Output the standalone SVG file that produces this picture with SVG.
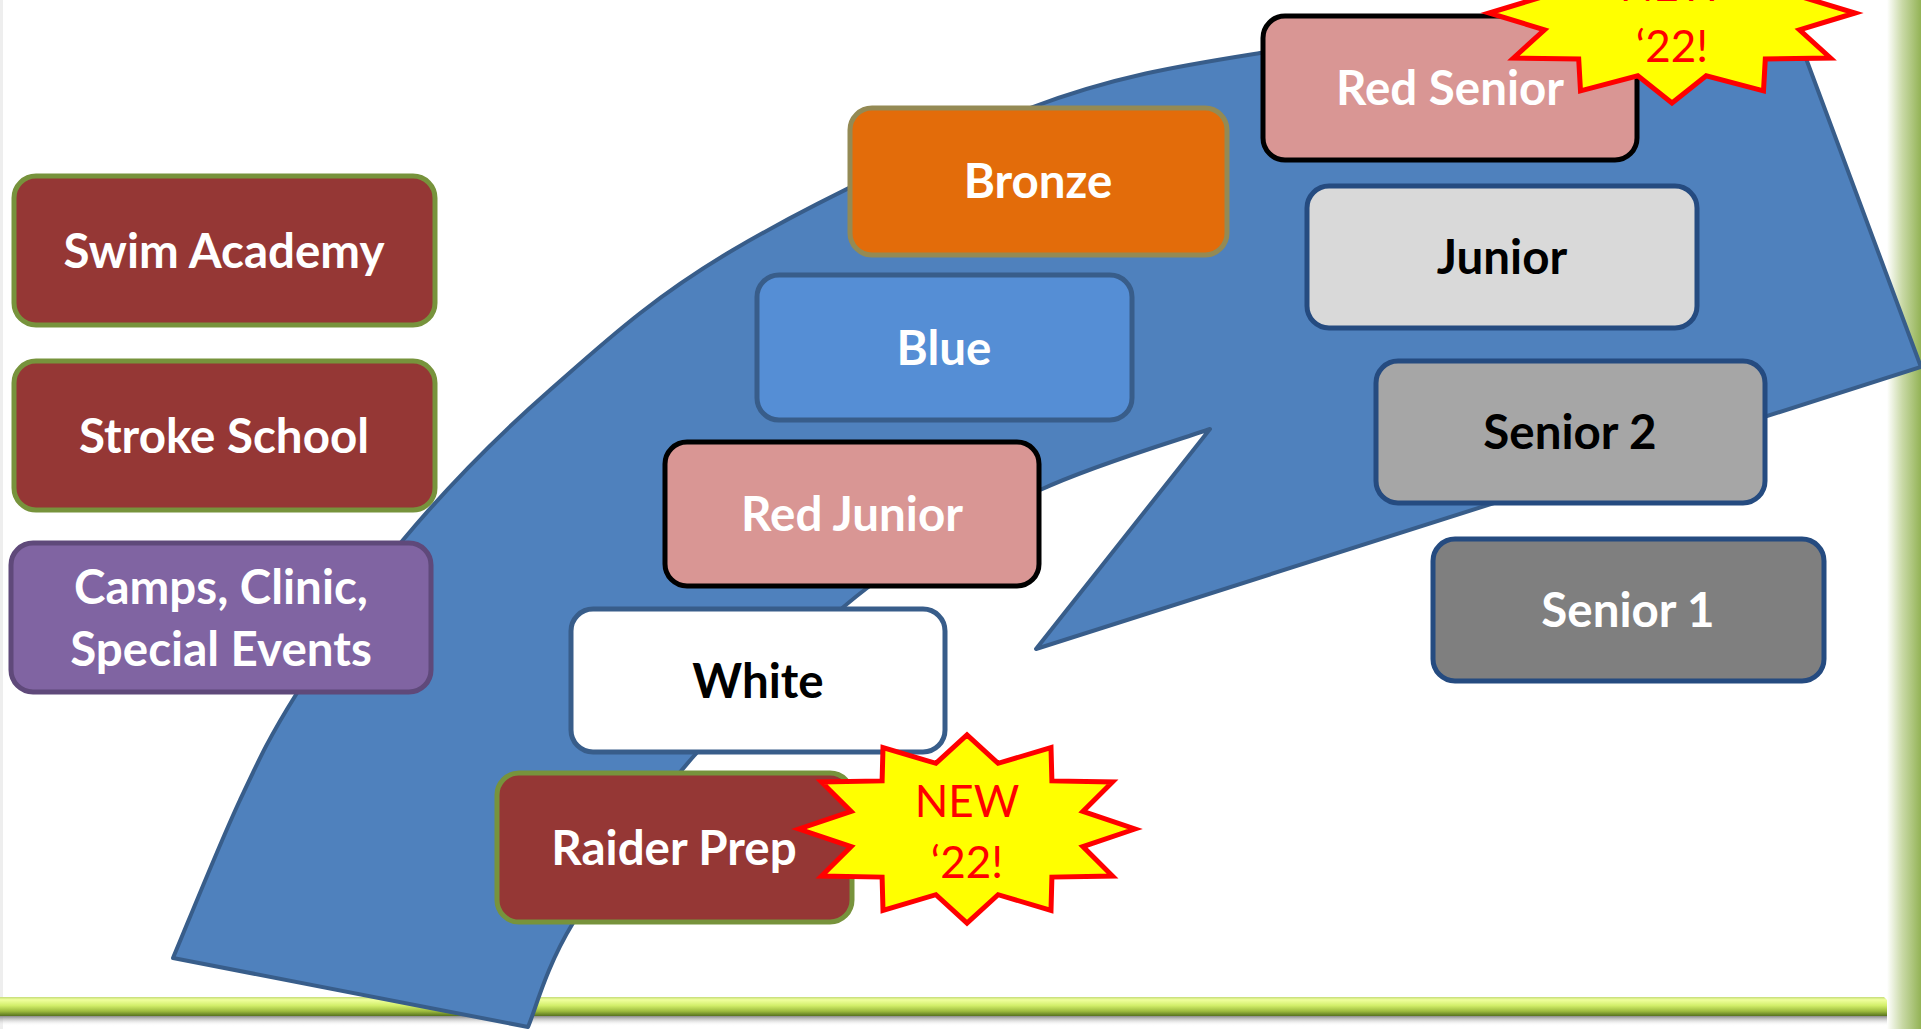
<svg xmlns="http://www.w3.org/2000/svg" width="1921" height="1029" viewBox="0 0 1921 1029">
<defs>
<style>
.box{stroke-width:5}
.lbl{font-family:Lato,"Open Sans","Liberation Sans",sans-serif;font-weight:700;font-size:47.5px;text-anchor:middle}
.w{fill:#ffffff}
.k{fill:#000000}
.dred{fill:#953735;stroke:#77933C}
.pink{fill:#D99694;stroke:#000000}
.gray{stroke:#254B80}
.star{fill:#FFFF00;stroke:#FF0000;stroke-width:5;stroke-linejoin:miter}
.stxt{font-family:Lato,"Open Sans","Liberation Sans",sans-serif;font-size:44px;fill:#FF0000;text-anchor:middle}
</style>
<linearGradient id="barG" x1="0" y1="0" x2="0" y2="1">
<stop offset="0" stop-color="#C5DC78"/>
<stop offset="0.15" stop-color="#F0FF9E"/>
<stop offset="0.45" stop-color="#D2EE6A"/>
<stop offset="0.75" stop-color="#9DBB3E"/>
<stop offset="1" stop-color="#56711F"/>
</linearGradient>
<linearGradient id="shadowG" x1="0" y1="0" x2="0" y2="1">
<stop offset="0" stop-color="#8a8a8a"/>
<stop offset="1" stop-color="#ffffff" stop-opacity="0"/>
</linearGradient>
<linearGradient id="sideG" x1="0" y1="0" x2="1" y2="0">
<stop offset="0" stop-color="#ffffff"/>
<stop offset="0.45" stop-color="#C9D9A6"/>
<stop offset="1" stop-color="#93B356"/>
</linearGradient>
</defs>

<rect x="0" y="0" width="1921" height="1029" fill="#ffffff"/>
<rect x="0" y="0" width="3" height="1029" fill="#EEEEEE"/>

<g id="frame">
<rect x="1887" y="0" width="34" height="1029" fill="url(#sideG)"/>
<rect x="0" y="1016" width="1887" height="10" fill="url(#shadowG)"/>
<path d="M0,997 L1884,997 L1887,1000 L1887,1016 L0,1016 Z" fill="url(#barG)"/>
</g>

<g id="progression-arrow">
<path fill="#4F81BD" stroke="#385D8A" stroke-width="4" stroke-linejoin="round" d="M173,958 C184.2,931.7 219.3,844.2 240,800 C260.7,755.8 269.8,736.3 297,693 C324.2,649.7 360.8,590.5 403,540 C445.2,489.5 495,438.3 550,390 C605,341.7 653,297 733,250 C813,203 942.2,140.8 1030,108 C1117.8,75.2 1181.7,65.5 1260,53 C1338.3,40.5 1409.8,34.3 1500,33 C1590.2,31.7 1750.8,43 1801,45 L1921,367 L1036,649 L1210,429 C1181.7,439.2 1097.2,463.5 1040,490 C982.8,516.5 924.8,543.5 867,588 C809.2,632.5 742,701.2 693,757 C644,812.8 600.5,878 573,923 C545.5,968 535.5,1009.7 528,1027 Z"/>
</g>

<g id="connectors"></g>

<g id="swim-academy">
<rect class="box dred" x="14" y="176" width="421" height="149" rx="22"/>
<text class="lbl w" x="224" y="268">Swim Academy</text>
</g>
<g id="stroke-school">
<rect class="box dred" x="14" y="361" width="421" height="149" rx="22"/>
<text class="lbl w" x="224" y="453">Stroke School</text>
</g>
<g id="camps">
<rect class="box" x="11" y="543" width="420" height="149" rx="22" fill="#8064A2" stroke="#5F497A"/>
<text class="lbl w" x="221" y="604">Camps, Clinic,</text>
<text class="lbl w" x="221" y="666">Special Events</text>
</g>

<g id="bronze">
<rect class="box" x="850" y="108" width="377" height="147" rx="22" fill="#E36C0A" stroke="#948A54"/>
<text class="lbl w" x="1038" y="198">Bronze</text>
</g>
<g id="blue">
<rect class="box" x="757" y="275" width="375" height="145" rx="22" fill="#558ED5" stroke="#385D8A"/>
<text class="lbl w" x="944" y="365">Blue</text>
</g>
<g id="red-junior">
<rect class="box pink" x="665" y="442" width="374" height="144" rx="22"/>
<text class="lbl w" x="852" y="531">Red Junior</text>
</g>
<g id="white">
<rect class="box" x="571" y="609" width="374" height="143" rx="22" fill="#ffffff" stroke="#385D8A" stroke-width="4"/>
<text class="lbl k" x="758" y="698">White</text>
</g>
<g id="raider-prep">
<rect class="box dred" x="497" y="773" width="355" height="149" rx="22"/>
<text class="lbl w" x="674" y="865">Raider Prep</text>
</g>

<g id="red-senior">
<rect class="box pink" x="1263" y="16" width="374" height="144" rx="22"/>
<text class="lbl w" x="1450" y="105">Red Senior</text>
</g>
<g id="junior">
<rect class="box gray" x="1307" y="186" width="390" height="142" rx="22" fill="#D9D9D9"/>
<text class="lbl k" x="1502" y="274">Junior</text>
</g>
<g id="senior-2">
<rect class="box gray" x="1376" y="361" width="389" height="142" rx="22" fill="#A6A6A6"/>
<text class="lbl k" x="1570" y="449">Senior 2</text>
</g>
<g id="senior-1">
<rect class="box gray" x="1433" y="539" width="391" height="142" rx="22" fill="#7F7F7F"/>
<text class="lbl w" x="1628" y="627">Senior 1</text>
</g>

<g id="new-badge-raider">
<polygon class="star" points="1135,829 1082.9,846.6 1112.5,876 1051.9,877.1 1051,910.4 998.1,894.7 967,923 935.9,894.7 883,910.4 882.1,877.1 821.5,876 851.1,846.6 799,829 851.1,811.4 821.5,782 882.1,780.9 883,747.6 935.9,763.3 967,735 998.1,763.3 1051,747.6 1051.9,780.9 1112.5,782 1082.9,811.4"/>
<text class="stxt" x="967" y="817">NEW</text>
<text class="stxt" x="967" y="878">‘22!</text>
</g>

<g id="new-badge-red-senior">
<polygon class="star" points="1855,13 1799.5,29.8 1830.5,58 1765.3,59 1763.5,90.9 1706.2,75.8 1672,103 1637.8,75.8 1580.5,90.9 1578.7,59 1513.5,58 1544.5,29.8 1489,13 1544.5,-3.8 1513.5,-32 1578.7,-33 1580.5,-64.9 1637.8,-49.8 1672,-77 1706.2,-49.8 1763.5,-64.9 1765.3,-33 1830.5,-32 1799.5,-3.8"/>
<text class="stxt" x="1672" y="1">NEW</text>
<text class="stxt" x="1672" y="62">‘22!</text>
</g>
</svg>
